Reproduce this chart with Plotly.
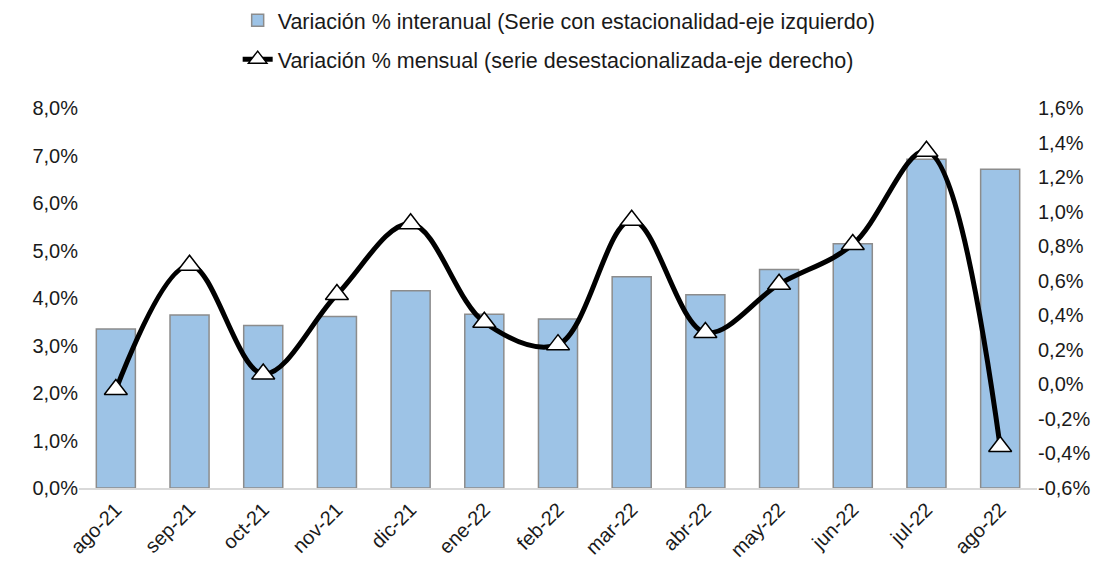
import plotly.graph_objects as go

categories = ["ago-21", "sep-21", "oct-21", "nov-21", "dic-21", "ene-22", "feb-22",
              "mar-22", "abr-22", "may-22", "jun-22", "jul-22", "ago-22"]
interanual = [3.35, 3.64, 3.42, 3.61, 4.15, 3.66, 3.56, 4.45, 4.07, 4.60, 5.14, 6.92, 6.71]
mensual = [-0.03, 0.69, 0.06, 0.52, 0.93, 0.36, 0.23, 0.95, 0.30, 0.58, 0.81, 1.35, -0.36]

left_ticks = [0, 1, 2, 3, 4, 5, 6, 7, 8]
right_ticks = [-0.6, -0.4, -0.2, 0.0, 0.2, 0.4, 0.6, 0.8, 1.0, 1.2, 1.4, 1.6]


def pct(v):
    return ("%.1f%%" % v).replace(".", ",")


font = "Liberation Sans, Arial, sans-serif"
txt = "#1a1a1a"

fig = go.Figure()
fig.add_trace(go.Bar(
    x=categories, y=interanual,
    name="Variación % interanual (Serie con estacionalidad-eje izquierdo)",
    marker=dict(color="#9DC3E6", line=dict(color="#8C8C8C", width=1.5)),
    width=0.53, legendgroup="a", yaxis="y",
))
fig.add_trace(go.Scatter(
    x=categories, y=mensual, mode="lines+markers",
    name="Variación % mensual (serie desestacionalizada-eje derecho)",
    line=dict(color="black", width=5, shape="spline", smoothing=1.0),
    marker=dict(symbol="triangle-up", size=20, color="white",
                line=dict(color="black", width=1.5)),
    legendgroup="b", yaxis="y2",
))

# page body has an 8px default margin, so the figure is 8px smaller than the window
fig.update_layout(
    width=1109, height=556,
    paper_bgcolor="white", plot_bgcolor="white",
    font=dict(family=font, size=20, color=txt),
    margin=dict(l=71, r=80, t=100, b=76, autoexpand=False),
    showlegend=True,
    legend=dict(x=0.497, xanchor="center", xref="container",
                y=1.285, yanchor="top", yref="paper",
                orientation="v", tracegroupgap=8,
                font=dict(family=font, size=21.5, color=txt),
                bgcolor="rgba(0,0,0,0)"),
    xaxis=dict(range=[-0.5, len(categories) - 0.5], showgrid=False, showline=True,
               linecolor="#D9D9D9", linewidth=2,
               tickangle=-45, ticks="", tickfont=dict(size=20, color=txt),
               automargin=False),
    yaxis=dict(range=[0, 8], tickvals=left_ticks, ticktext=[pct(v) for v in left_ticks],
               showgrid=False, zeroline=False, showline=False, ticks="",
               tickfont=dict(size=20, color=txt), automargin=False),
    yaxis2=dict(range=[-0.6, 1.6], tickvals=right_ticks,
                ticktext=[pct(v) for v in right_ticks],
                overlaying="y", side="right", showgrid=False, zeroline=False,
                showline=False, ticks="", tickfont=dict(size=20, color=txt),
                automargin=False),
)

fig.write_html("out.html")
